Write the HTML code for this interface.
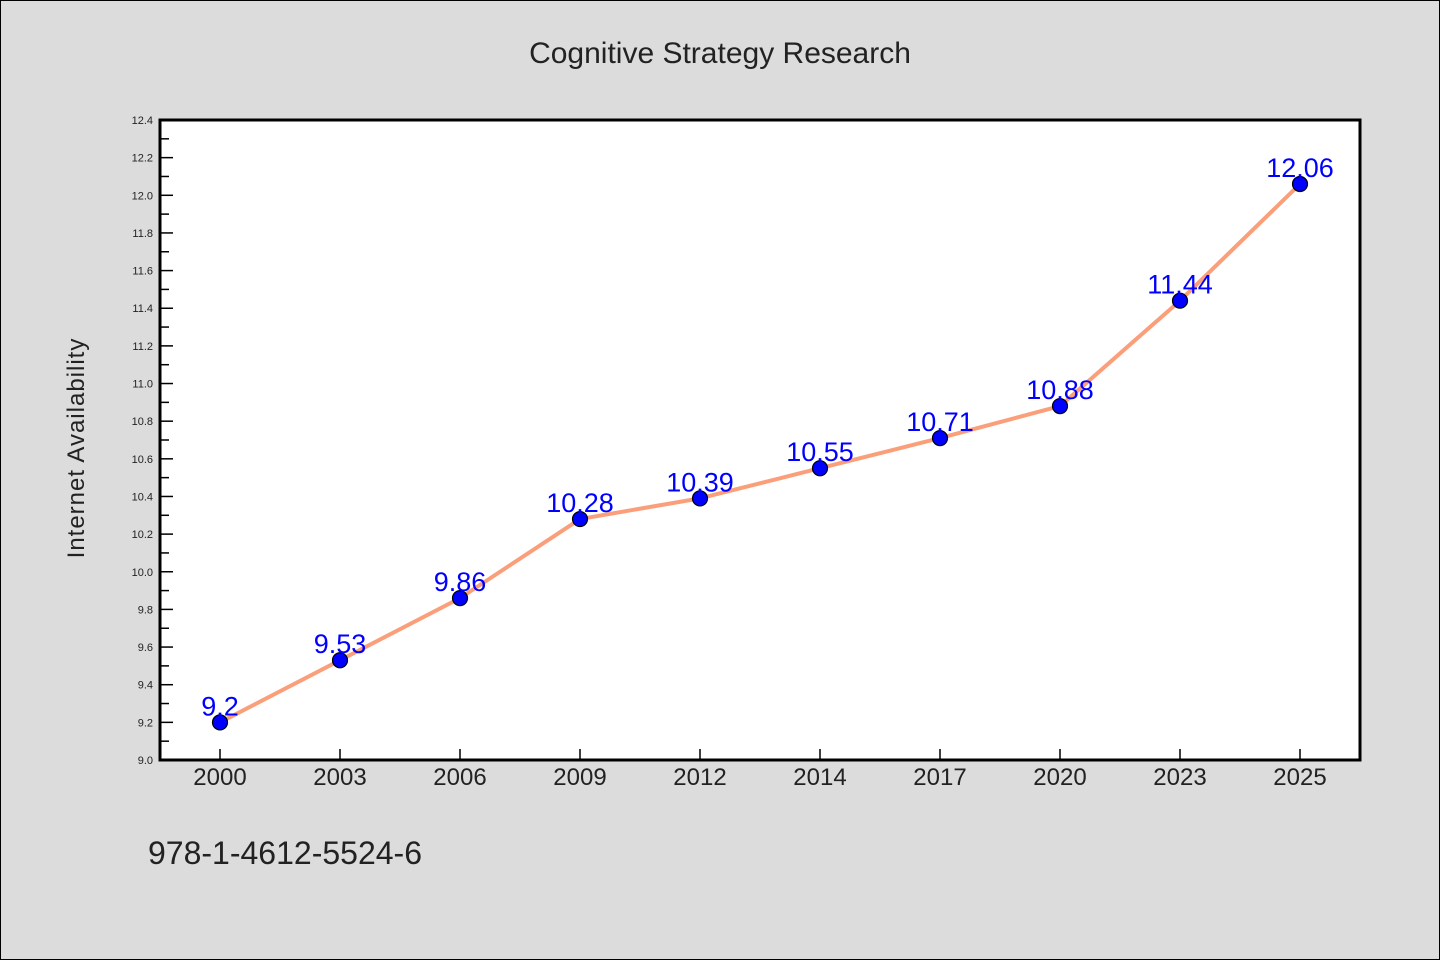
<!DOCTYPE html>
<html><head><meta charset="utf-8"><style>
body{margin:0;background:#dcdcdc;}
svg{display:block;font-family:"WenQuanYi Zen Hei","Liberation Sans",sans-serif;}
</style></head><body>
<svg width="1440" height="960">
<rect x="0.5" y="0.5" width="1439" height="959" fill="#dcdcdc" stroke="#000"/>
<text x="720" y="63" font-size="30" text-anchor="middle" fill="#222">Cognitive Strategy Research</text>
<rect x="160" y="120" width="1200" height="640" fill="#fff"/>
<g id="yaxis"></g><g id="xaxis"></g><g id="series"></g>
<rect x="160" y="120" width="1200" height="640" fill="none" stroke="#000" stroke-width="3"/>
<text transform="translate(84,448) rotate(-90)" font-size="24" text-anchor="middle" fill="#222" letter-spacing="1">Internet Availability</text>
<text x="148" y="864" font-size="32" fill="#222">978-1-4612-5524-6</text>
</svg>
<script>
const categories=["2000","2003","2006","2009","2012","2014","2017","2020","2023","2025"];
const values=[9.2,9.53,9.86,10.28,10.39,10.55,10.71,10.88,11.44,12.06];
const valueLabels=["9.2","9.53","9.86","10.28","10.39","10.55","10.71","10.88","11.44","12.06"];
const yTicks=["9.0","9.2","9.4","9.6","9.8","10.0","10.2","10.4","10.6","10.8","11.0","11.2","11.4","11.6","11.8","12.0","12.2","12.4"];
const yMin=9.0,yMax=12.4;
const NS="http://www.w3.org/2000/svg";
const y=v=>760-(v-yMin)/(yMax-yMin)*640;
const x=i=>220+i*120;
function mk(t,a,p){const e=document.createElementNS(NS,t);for(const k in a)e.setAttribute(k,a[k]);p.appendChild(e);return e;}
const ya=document.getElementById('yaxis'),xa=document.getElementById('xaxis'),se=document.getElementById('series');
yTicks.forEach((t,i)=>{const v=parseFloat(t);
 const l=mk('line',{x1:160,x2:173,y1:y(v),y2:y(v),stroke:'#000','stroke-width':1.5},ya);
 
 
 const tx=mk('text',{x:153,y:y(v)+4,'font-size':11,'text-anchor':'end',fill:'#222'},ya);tx.textContent=t;
 
 
 if(i<yTicks.length-1){const m=v+0.1;const ml=mk('line',{x1:160,x2:169,y1:y(m),y2:y(m),stroke:'#000','stroke-width':1.5},ya);
 
 }
});
categories.forEach((c,i)=>{
 const l=mk('line',{x1:x(i),x2:x(i),y1:760,y2:749,stroke:'#000','stroke-width':1.5},xa);
 
 
 const t=mk('text',{x:x(i),y:785,'font-size':24,'text-anchor':'middle',fill:'#222'},xa);t.textContent=c;
 
 
});
const pl=mk('polyline',{points:values.map((v,i)=>x(i)+','+y(v)).join(' '),fill:'none',stroke:'#fa9f7a','stroke-width':4,'stroke-linejoin':'round'},se);


values.forEach((v,i)=>{
 const c=mk('circle',{cx:x(i),cy:y(v),r:7.5,fill:'#0000ff',stroke:'#000','stroke-width':1.2},se);
 
 
});
values.forEach((v,i)=>{
 const t=mk('text',{x:x(i),y:y(v)-7,'font-size':27,'text-anchor':'middle',fill:'#0000ff'},se);t.textContent=valueLabels[i];
 
 
});
</script>
</body></html>
